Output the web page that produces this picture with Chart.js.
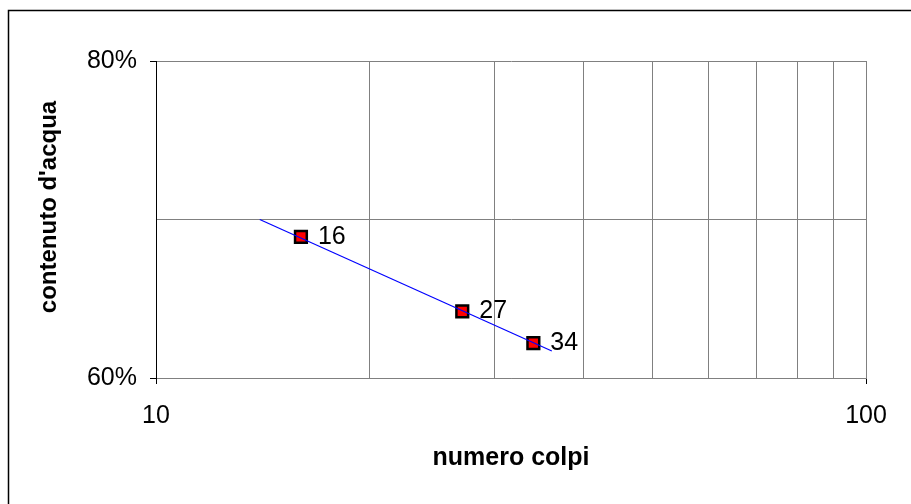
<!DOCTYPE html>
<html>
<head>
<meta charset="utf-8">
<script src="https://cdn.jsdelivr.net/npm/chart.js@4.4.0/dist/chart.umd.min.js"></script>
<style>
  html, body { margin: 0; padding: 0; background: #fff; }
  canvas { display: block; }
</style>
</head>
<body>
<canvas id="myChart" width="911" height="504"></canvas>
<script>
// values
const colpi = [16, 27, 34];
const acqua = [68.9, 64.2, 62.2];
const trendColpi = [14.0, 36.1];
const trendAcqua = [70.0, 61.7];

const xGridValues = [10, 20, 30, 40, 50, 60, 70, 80, 90, 100];
const xTickLabels = [10, 100];
const yGridValues = [60, 70, 80];
const yTickLabels = [60, 80];

const FONT = "'Liberation Sans', Arial, sans-serif";

const outerBorder = {
  id: 'outerBorder',
  beforeDraw(chart) {
    const ctx = chart.ctx;
    ctx.save();
    ctx.fillStyle = '#fff';
    ctx.fillRect(0, 0, chart.width, chart.height);
    ctx.strokeStyle = '#000';
    ctx.lineWidth = 1.5;
    ctx.strokeRect(8.5, 10.5, chart.width + 20, chart.height + 20);
    ctx.restore();
  }
};

// y title drawn by hand, Excel puts it a bit above the plot centre
const yTitle = {
  id: 'yTitle',
  afterDraw(chart) {
    const ctx = chart.ctx;
    ctx.save();
    ctx.translate(49, 207);
    ctx.rotate(-Math.PI / 2);
    ctx.font = 'bold 24px ' + FONT;
    ctx.fillStyle = '#000';
    ctx.textAlign = 'center';
    ctx.textBaseline = 'middle';
    ctx.fillText("contenuto d'acqua", 0, 0);
    ctx.restore();
  }
};

const pointLabels = {
  id: 'pointLabels',
  afterDatasetsDraw(chart) {
    const ctx = chart.ctx;
    const meta = chart.getDatasetMeta(1);
    ctx.save();
    ctx.font = '25px ' + FONT;
    ctx.fillStyle = '#000';
    ctx.textAlign = 'left';
    ctx.textBaseline = 'middle';
    meta.data.forEach((pt, i) => {
      ctx.fillText(String(colpi[i]), pt.x + 17, pt.y);
    });
    ctx.restore();
  }
};

const ctx = document.getElementById('myChart').getContext('2d');
new Chart(ctx, {
  type: 'scatter',
  data: {
    datasets: [{
      type: 'line',
      label: 'trend',
      data: trendColpi.map((x, i) => ({ x: x, y: trendAcqua[i] })),
      borderColor: '#0000ff',
      borderWidth: 1.2,
      pointRadius: 0,
      fill: false
    }, {
      label: 'punti',
      data: colpi.map((x, i) => ({ x: x, y: acqua[i] })),
      pointStyle: 'rect',
      pointRadius: 8.3,
      pointBackgroundColor: '#ff0000',
      pointBorderColor: '#000',
      pointBorderWidth: 2.5,
      showLine: false
    }]
  },
  options: {
    responsive: false,
    animation: false,
    devicePixelRatio: 1,
    layout: { padding: { top: 61, right: 45, left: 0, bottom: 0 } },
    plugins: {
      legend: { display: false },
      tooltip: { enabled: false }
    },
    scales: {
      x: {
        type: 'logarithmic',
        min: 10,
        max: 100,
        afterBuildTicks(scale) {
          scale.ticks = xGridValues.map(v => ({ value: v }));
        },
        afterFit(scale) { scale.height = 126; },
        ticks: {
          autoSkip: false,
          maxRotation: 0,
          padding: 17,
          color: '#000',
          font: { family: FONT, size: 25 },
          callback: (v) => xTickLabels.includes(v) ? String(v) : ''
        },
        grid: {
          color: '#808080',
          lineWidth: 1,
          tickLength: 6,
          tickColor: (c) => xTickLabels.includes(c.tick && c.tick.value) ? '#000' : 'rgba(0,0,0,0)'
        },
        border: { color: '#808080', width: 1 },
        title: {
          display: true,
          text: 'numero colpi',
          color: '#000',
          font: { family: FONT, size: 25, weight: 'bold' },
          padding: { top: 0, bottom: 31 }
        }
      },
      y: {
        min: 60,
        max: 80,
        afterBuildTicks(scale) {
          scale.ticks = yGridValues.map(v => ({ value: v }));
        },
        afterFit(scale) { scale.width = 156; },
        ticks: {
          autoSkip: false,
          padding: 13,
          color: '#000',
          font: { family: FONT, size: 25 },
          callback: (v) => yTickLabels.includes(v) ? v + '%' : ''
        },
        grid: {
          color: '#808080',
          lineWidth: 1,
          tickLength: 6,
          tickColor: (c) => yTickLabels.includes(c.tick && c.tick.value) ? '#000' : 'rgba(0,0,0,0)'
        },
        border: { color: '#000', width: 1 },
        title: { display: false }
      }
    }
  },
  plugins: [outerBorder, yTitle, pointLabels]
});
</script>
</body>
</html>
